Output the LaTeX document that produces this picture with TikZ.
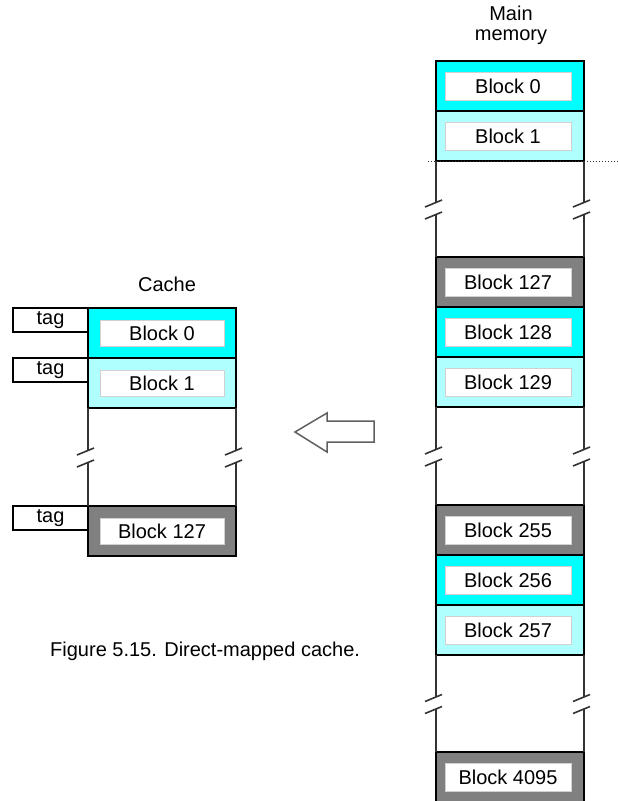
\documentclass[tikz,border=0pt]{standalone}
\usepackage{fontspec}
\setmainfont{Liberation Sans}
\usetikzlibrary{calc}
\definecolor{cy}{HTML}{00FFFF}
\definecolor{lcy}{HTML}{B0FFFF}
\definecolor{gr}{HTML}{808080}
\definecolor{arrowgray}{HTML}{606060}
\newcommand\memblock[4]{%
  \node[blk, fill=#3] (#1) at (510,#2) {};
  \node[inbox] (#1i) at ($(#1)+(-2,0)$) {#4};}
\newcommand\cacheblock[4]{%
  \node[blk, fill=#3] (#1) at (162,#2) {};
  \node[cinbox] (#1i) at (#1) {#4};}
\newcommand\gapline[3]{%
  \coordinate (#3) at ($(#1)!0.5!(#2)$);
  \draw[wall] (#1) -- ($(#3)+(0,-6.5)$);
  \draw[wall] ($(#3)+(-11,-2)$) -- ($(#3)+(6,-9)$);
  \draw[wall] ($(#3)+(-11,10)$) -- ($(#3)+(6,3)$);
  \draw[wall] ($(#3)+(0,5.5)$) -- (#2);}
\begin{document}
\begin{tikzpicture}[x=1pt,y=-1pt,
  font=\fontsize{20}{20}\selectfont,
  blk/.style={draw=black, line width=1.6pt, minimum width=148pt, minimum height=50pt, inner sep=0pt, outer sep=0pt},
  inbox/.style={draw=black!18, fill=white, line width=0.8pt, minimum width=126pt, minimum height=28pt, inner sep=0pt},
  cinbox/.style={draw=black!18, fill=white, line width=0.8pt, minimum width=124pt, minimum height=26pt, inner sep=0pt},
  tagbox/.style={draw=black, line width=1.4pt, fill=white, minimum width=75pt, minimum height=24pt, inner sep=0pt, outer sep=0pt},
  wall/.style={line width=1.6pt, draw=black!80},
  lbl/.style={inner sep=0pt, align=center}]
\useasboundingbox (0,0) rectangle (618,801);
\clip (0,0) rectangle (618,801);
\fill[white] (0,0) rectangle (618,801);

% Main memory
\node[lbl] (mmlabel) at (511,25) {Main\\memory};
\memblock{m0}{86}{cy}{Block 0}
\memblock{m1}{136}{lcy}{Block 1}
\memblock{m127}{282}{gr}{Block 127}
\memblock{m128}{332}{cy}{Block 128}
\memblock{m129}{382}{lcy}{Block 129}
\memblock{m255}{530}{gr}{Block 255}
\memblock{m256}{580}{cy}{Block 256}
\memblock{m257}{630}{lcy}{Block 257}
\memblock{m4095}{777}{gr}{Block 4095}

\coordinate (dotL) at ($(m1.south west)+(-8,0)$);
\coordinate (dotR) at (618,161);
\draw[dotted, line width=1pt, black!80] (dotL) -- (dotR);

\gapline{m1.south west}{m127.north west}{g1}
\gapline{m1.south east}{m127.north east}{g2}
\gapline{m129.south west}{m255.north west}{g3}
\gapline{m129.south east}{m255.north east}{g4}
\gapline{m257.south west}{m4095.north west}{g5}
\gapline{m257.south east}{m4095.north east}{g6}

% Cache
\node[lbl] (clabel) at (167,284) {Cache};
\node[tagbox] (t0) at (50.5,320) {tag};
\node[tagbox] (t1) at (50.5,370) {tag};
\node[tagbox] (t127) at (50.5,518) {tag};
\cacheblock{c0}{333}{cy}{Block 0}
\cacheblock{c1}{383}{lcy}{Block 1}
\cacheblock{c127}{531}{gr}{Block 127}
\gapline{c1.south west}{c127.north west}{g7}
\gapline{c1.south east}{c127.north east}{g8}

% Arrow
\draw[line width=1.5pt, draw=arrowgray, fill=white, line join=miter]
  (295,432) -- (327,413) -- (327,421) -- (374,421) -- (374,442)
  -- (327,442) -- (327,452) -- cycle;

% Caption
\node[lbl, anchor=west] (caption) at (50,651) {Figure 5.15. Direct-mapped cache.};
\end{tikzpicture}
\end{document}
